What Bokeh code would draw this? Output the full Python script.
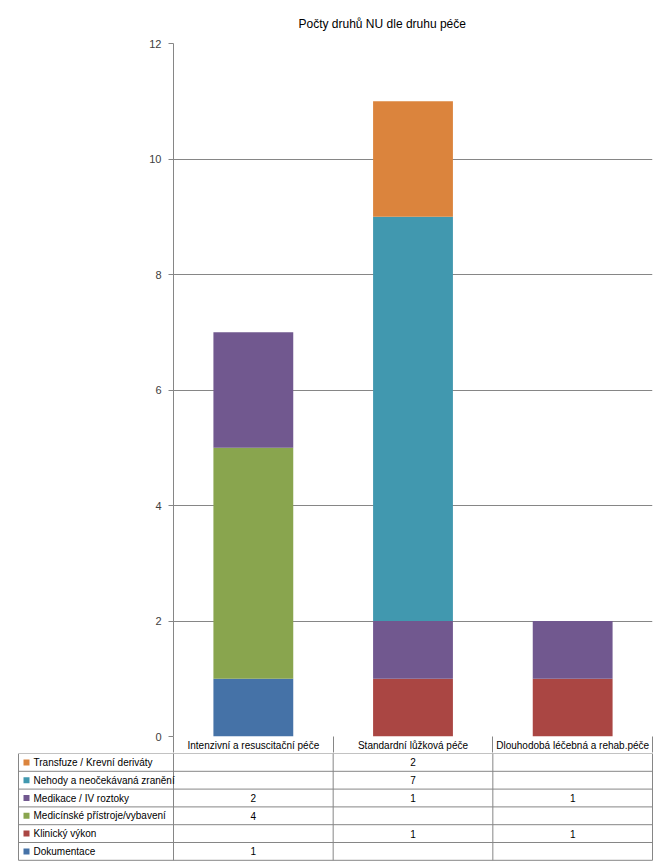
from bokeh.plotting import figure
from bokeh.layouts import column
from bokeh.models import Range1d, FixedTicker, ColumnDataSource, Title, LinearAxis
from bokeh.core.properties import value
from bokeh.embed import file_html
from bokeh.resources import INLINE

categories = ["Intenzivní a resuscitační péče", "Standardní lůžková péče", "Dlouhodobá léčebná a rehab.péče"]
series_names = ["Dokumentace", "Klinický výkon", "Medicínské přístroje/vybavení",
                "Medikace / IV roztoky", "Nehody a neočekávaná zranění", "Transfuze / Krevní deriváty"]
dokumentace = [1, 0, 0]
klinicky_vykon = [0, 1, 1]
medicinske_pristroje = [4, 0, 0]
medikace = [2, 1, 1]
nehody = [0, 7, 0]
transfuze = [0, 2, 0]
colors = ["#4572A7", "#AA4643", "#89A54E", "#71588F", "#4198AF", "#DB843D"]
y_ticks = [0, 2, 4, 6, 8, 10, 12]

n_cat = len(categories)
cat_centers = [i + 0.5 for i in range(n_cat)]
series_values = [dokumentace, klinicky_vykon, medicinske_pristroje, medikace, nehody, transfuze]
keys = ["s%d" % i for i in range(len(series_names))]
data = {"x": cat_centers}
for k, v in zip(keys, series_values):
    data[k] = v
src = ColumnDataSource(data)

FONT = "Liberation Sans"
GRID = "#868686"

W = 667
LEFT = 173
RIGHT_PAD = 15
TOP = 43
TOP_H = 753
BOTTOM_B = 16

p = figure(width=W, height=TOP_H, x_range=Range1d(0, n_cat),
           y_range=Range1d(0, 12), output_backend="svg", toolbar_location=None,
           x_axis_location=None, min_border_left=LEFT, min_border_right=RIGHT_PAD,
           min_border_top=TOP, min_border_bottom=BOTTOM_B, outline_line_color=None,
           frame_align=False)
p.title = Title(text="Počty druhů NU dle druhu péče", align="left", offset=125, standoff=25,
                text_font=FONT, text_font_size="12px", text_font_style="normal",
                text_color="#000000")
p.vbar_stack(keys, x="x", width=0.5, source=src, color=colors, line_color=None)
p.xgrid.visible = False
p.ygrid.ticker = FixedTicker(ticks=y_ticks)
p.ygrid.grid_line_color = GRID
p.yaxis.ticker = FixedTicker(ticks=y_ticks)
p.yaxis.axis_line_color = GRID
p.yaxis.major_tick_line_color = GRID
p.yaxis.major_tick_out = 5
p.yaxis.major_tick_in = 0
p.yaxis.minor_tick_line_color = None
p.yaxis.major_label_text_font = FONT
p.yaxis.major_label_text_font_size = "11px"
p.yaxis.major_label_text_color = "#404040"
p.yaxis.major_label_standoff = 7

# category header axis: labels at category centers, minor ticks as header borders
xa = LinearAxis(ticker=FixedTicker(ticks=cat_centers, minor_ticks=list(range(n_cat + 1))),
                major_label_overrides={c: name for c, name in zip(cat_centers, categories)},
                axis_line_color=None, major_tick_line_color=None, major_tick_out=0, major_tick_in=0,
                minor_tick_line_color=GRID, minor_tick_out=BOTTOM_B, minor_tick_in=0,
                major_label_standoff=-13, major_label_text_font=FONT,
                major_label_text_font_size="10px", major_label_text_color="#000000")
p.add_layout(xa, "below")

# ---- data table ----
cw = (W - LEFT - RIGHT_PAD) / 3.0
rh = 17.8
TH = 866 - TOP_H
n = len(series_names)
t = figure(width=W, height=TH, x_range=Range1d(-LEFT / cw, (W - LEFT) / cw),
           y_range=Range1d(n - TH / rh, n), output_backend="svg",
           toolbar_location=None, x_axis_location=None, y_axis_location=None,
           min_border_left=0, min_border_right=0, min_border_top=0, min_border_bottom=0,
           outline_line_color=None, frame_align=False)
t.xgrid.visible = False
t.ygrid.visible = False
xl = -(LEFT - 18) / cw
# horizontal lines
t.segment(x0=[xl] * (n + 1), y0=list(range(n + 1)), x1=[n_cat] * (n + 1), y1=list(range(n + 1)),
          line_color=GRID, line_width=1)
# vertical lines
vxs = [xl] + list(range(n_cat + 1))
t.segment(x0=vxs, y0=[0] * len(vxs), x1=vxs, y1=[n] * len(vxs), line_color=GRID)
# row labels (series): row i from bottom = series i
rows_y = [i + 0.5 for i in range(n)]
t.scatter(x=[xl + 8 / cw] * n, y=rows_y, marker="square", size=6, color=colors, line_color=None)
t.text(x=[xl + 15 / cw] * n, y=rows_y, text=series_names, text_align="left",
       text_baseline="middle", text_font=value(FONT), text_font_size="10px", text_color="#000000")
# cell values
vx, vy, vt = [], [], []
for i, vals in enumerate(series_values):
    for j, v in enumerate(vals):
        if v:
            vx.append(cat_centers[j])
            vy.append(i + 0.5)
            vt.append(str(v))
t.text(x=vx, y=vy, text=vt, text_align="center", text_baseline="middle",
       text_font=value(FONT), text_font_size="10px", text_color="#000000")

layout = column(p, t, spacing=0)
open("out.html", "w").write(file_html(layout, INLINE))
